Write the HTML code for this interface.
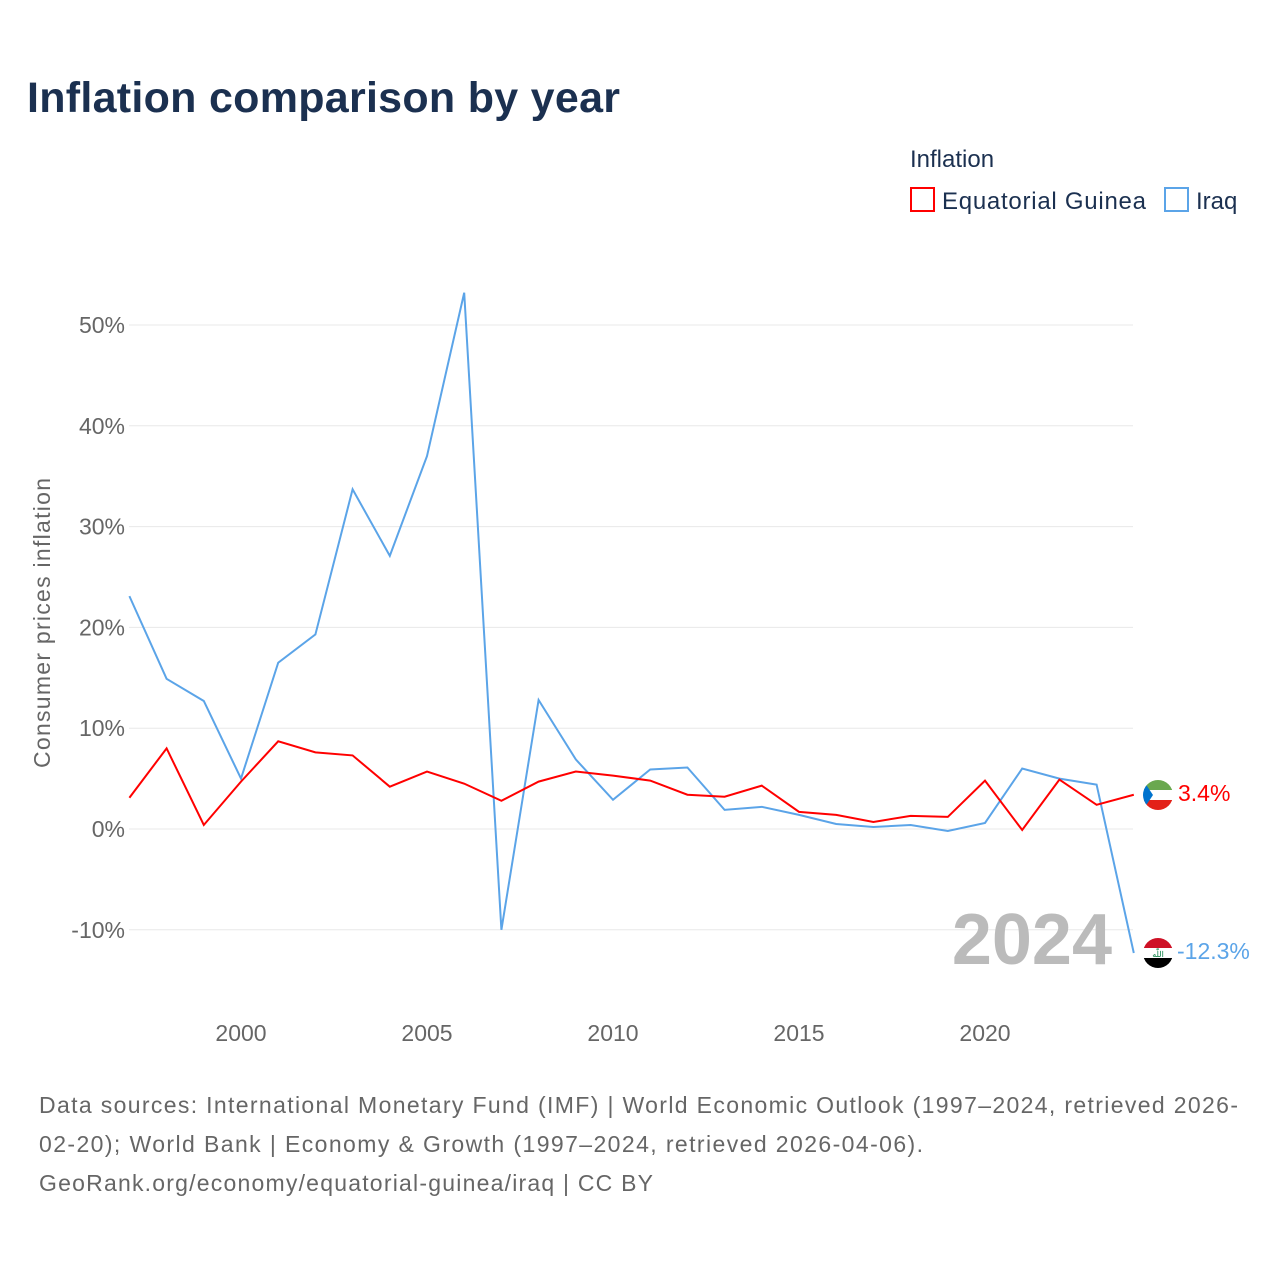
<!DOCTYPE html>
<html><head><meta charset="utf-8"><style>
body{margin:0;background:#fff;font-family:"Liberation Sans",sans-serif}
svg text{font-family:"Liberation Sans",sans-serif}
</style></head><body>
<svg id="chart" width="1280" height="1280" viewBox="0 0 1280 1280" xmlns="http://www.w3.org/2000/svg">
<rect width="1280" height="1280" fill="#fff"/>
<text x="27" y="112" font-size="43" font-weight="bold" fill="#1b3050" textLength="593">Inflation comparison by year</text>
<text x="910" y="167" font-size="24" fill="#1b3050">Inflation</text>
<g><rect x="911" y="188" width="23" height="23" fill="none" stroke="#f00" stroke-width="2"/><text x="942" y="209" font-size="24" fill="#1b3050" textLength="204">Equatorial Guinea</text></g>
<g><rect x="1165" y="188" width="23" height="23" fill="none" stroke="#5ba4e8" stroke-width="2"/><text x="1196" y="209" font-size="24" fill="#1b3050">Iraq</text></g>
<text transform="translate(50,623) rotate(-90)" text-anchor="middle" font-size="23" fill="#666" textLength="290">Consumer prices inflation</text>
<g id="grid"></g><g id="lines"></g>
<text x="1112" y="964" text-anchor="end" font-size="72" font-weight="bold" fill="#bbb">2024</text>
<g>
<clipPath id="c1"><circle cx="1158" cy="795" r="15"/></clipPath>
<g clip-path="url(#c1)"><rect x="1140" y="780" width="40" height="10" fill="#6aa84f"/><rect x="1140" y="790" width="40" height="10" fill="#fff"/><rect x="1140" y="800" width="40" height="12" fill="#e32118"/><polygon points="1143,780 1153,795 1143,810" fill="#0073ce"/></g></g>
<text x="1178" y="801" font-size="23" fill="#f00">3.4%</text>
<g>
<clipPath id="c2"><circle cx="1158" cy="953" r="15"/></clipPath>
<g clip-path="url(#c2)"><rect x="1140" y="938" width="40" height="10" fill="#ce1126"/><rect x="1140" y="948" width="40" height="10" fill="#fff"/><rect x="1140" y="958" width="40" height="12" fill="#000"/><text x="1158" y="957" font-size="8" text-anchor="middle" fill="#007a3d">اللّٰه</text></g></g>
<text x="1177" y="959" font-size="23" fill="#5ba4e8">-12.3%</text>
<g font-size="23" fill="#666">
<text x="39" y="1113" textLength="1199">Data sources: International Monetary Fund (IMF) | World Economic Outlook (1997–2024, retrieved 2026-</text>
<text x="39" y="1152" textLength="884">02-20); World Bank | Economy &amp; Growth (1997–2024, retrieved 2026-04-06).</text>
<text x="39" y="1191" textLength="614">GeoRank.org/economy/equatorial-guinea/iraq | CC BY</text>
</g>
</svg>
<script>
const years=[1997,1998,1999,2000,2001,2002,2003,2004,2005,2006,2007,2008,2009,2010,2011,2012,2013,2014,2015,2016,2017,2018,2019,2020,2021,2022,2023,2024];
const iraq=[23.1,14.9,12.7,5.0,16.5,19.3,33.7,27.1,37.0,53.2,-10.0,12.8,6.9,2.9,5.9,6.1,1.9,2.2,1.4,0.5,0.2,0.4,-0.2,0.6,6.0,5.0,4.4,-12.3];
const eqGuinea=[3.1,8.0,0.4,4.7,8.7,7.6,7.3,4.2,5.7,4.5,2.8,4.7,5.7,5.3,4.8,3.4,3.2,4.3,1.7,1.4,0.7,1.3,1.2,4.8,-0.1,4.9,2.4,3.4];
const yTicks=[-10,0,10,20,30,40,50];
const xTicks=[2000,2005,2010,2015,2020];
const NS="http://www.w3.org/2000/svg";
const x=v=>241+(v-2000)*37.2;
const y=v=>829-v*10.08;
const grid=document.getElementById('grid'),lines=document.getElementById('lines');
yTicks.forEach(t=>{
  const l=document.createElementNS(NS,'line');
  
  
  l.setAttribute('x1',129);l.setAttribute('x2',1133);l.setAttribute('y1',y(t));l.setAttribute('y2',y(t));
  l.setAttribute('stroke','#e8e8e8');l.setAttribute('stroke-width',1);grid.appendChild(l);
  const tx=document.createElementNS(NS,'text');
  
  
  tx.setAttribute('x',125);tx.setAttribute('y',y(t)+8);tx.setAttribute('text-anchor','end');
  tx.setAttribute('font-size',23);tx.setAttribute('fill','#666');tx.textContent=t+'%';grid.appendChild(tx);
});
xTicks.forEach(t=>{
  const tx=document.createElementNS(NS,'text');
  
  
  tx.setAttribute('x',x(t));tx.setAttribute('y',1041);tx.setAttribute('text-anchor','middle');
  tx.setAttribute('font-size',23);tx.setAttribute('fill','#666');tx.textContent=t;grid.appendChild(tx);
});
function line(data,color,name){
  const p=document.createElementNS(NS,'polyline');
  
  
  p.setAttribute('points',data.map((v,i)=>x(years[i])+','+y(v)).join(' '));
  p.setAttribute('fill','none');p.setAttribute('stroke',color);p.setAttribute('stroke-width',2);
  lines.appendChild(p);
}
line(iraq,'#5ba4e8','line-iraq');
line(eqGuinea,'#ff0000','line-equatorial-guinea');
</script>
</body></html>
